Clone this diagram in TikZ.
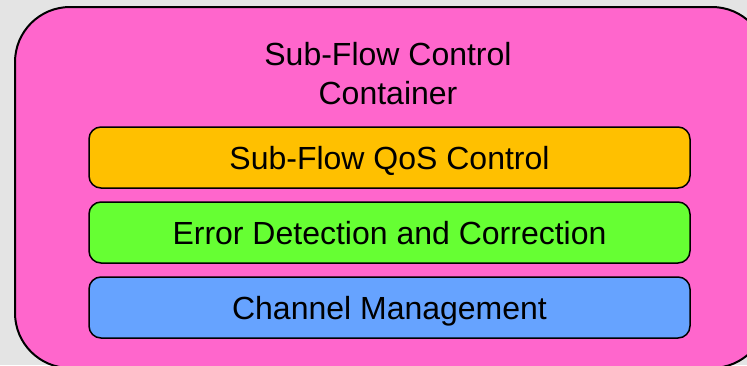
\documentclass[tikz,border=0pt]{standalone}
\usepackage{fontspec}
\setmainfont{Liberation Sans}
\definecolor{bggrey}{HTML}{E4E4E4}
\definecolor{containerpink}{HTML}{FF66CC}
\definecolor{qosorange}{HTML}{FFC000}
\definecolor{edcgreen}{HTML}{66FF33}
\definecolor{chanblue}{HTML}{66A3FF}
\begin{document}
\begin{tikzpicture}[x=1pt,y=-1pt,
        layer/.style={draw=black, line width=1.5pt, rounded corners=12pt,
            minimum width=601pt, minimum height=61pt, inner sep=0pt,
            text height=23pt, text depth=0pt, font=\fontsize{32}{39}\selectfont}]
        \useasboundingbox (0,0) rectangle (747,365);
        \fill[bggrey] (0,0) rectangle (747,365);
        % container runs off the right and bottom edges
        \begin{scope}
        \clip (0,0) rectangle (747,365);
        \draw[fill=containerpink, line width=2pt, rounded corners=55pt] (15,7) rectangle (767,368);
        \end{scope}
        \node[anchor=north, align=center, inner sep=0pt,
            font=\fontsize{32}{39}\selectfont] (title) at (388,42) {Sub-Flow Control\\Container};
        \foreach \nm/\y/\col/\txt in {qos/157.5/qosorange/Sub-Flow QoS Control,
            edc/232.5/edcgreen/Error Detection and Correction,
            chan/307.5/chanblue/Channel Management}
        \node[layer, fill=\col] (\nm) at (389.5,\y) {\txt};
\end{tikzpicture}
\end{document}
